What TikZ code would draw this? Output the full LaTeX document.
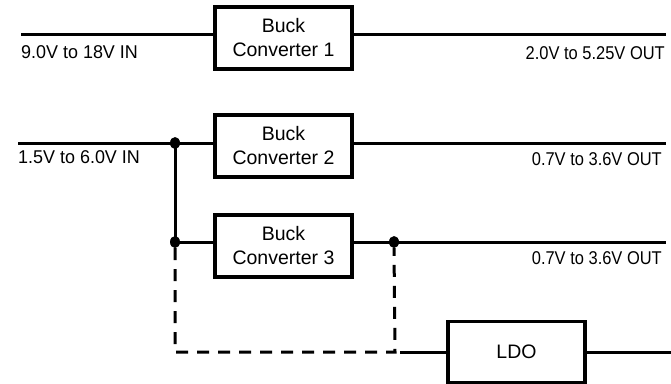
\documentclass[tikz,border=0pt]{standalone}
\usepackage{fontspec}
\usepackage{graphicx}
\setmainfont{Liberation Sans}
\usetikzlibrary{shapes.geometric}
\newcommand{\inlbl}[1]{\scalebox{0.97}[1]{#1}}
\newcommand{\outlbl}[1]{\scalebox{0.89}[1]{#1}}
\begin{document}
\begin{tikzpicture}[x=1pt,y=-1pt,
  box/.style={draw,line width=3.2pt,minimum width=137pt,minimum height=62pt,inner sep=0pt,align=center,font=\fontsize{19.5}{24}\selectfont},
  wire/.style={line width=3pt},
  dashwire/.style={line width=3pt,dash pattern=on 12pt off 9pt},
  lbl/.style={font=\fontsize{18.5}{22}\selectfont,inner sep=0pt},
  jdot/.style={ellipse,fill,inner sep=0pt,minimum width=10pt,minimum height=12pt}]
\useasboundingbox (0,0) rectangle (671,383);
% row 1
\coordinate (in1) at (21,34);
\coordinate (out1) at (666,34);
\node[box] (b1) at (283.5,38) {Buck\\Converter 1};
\draw[wire] (in1) -- (b1.west |- in1);
\draw[wire] (b1.east |- in1) -- (out1);
\node[lbl,anchor=west] (l1) at (21,52) {\inlbl{9.0V to 18V IN}};
\node[lbl,anchor=east] (r1) at (665,53) {\outlbl{2.0V to 5.25V OUT}};
% row 2
\coordinate (in2) at (18,143);
\coordinate (out2) at (666,143);
\node[box] (b2) at (283.5,146) {Buck\\Converter 2};
\node[jdot] (j1) at (175,143) {};
\draw[wire] (in2) -- (b2.west |- in2);
\draw[wire] (b2.east |- in2) -- (out2);
\node[lbl,anchor=west] (l2) at (18,157) {\inlbl{1.5V to 6.0V IN}};
\node[lbl,anchor=east] (r2) at (662,159) {\outlbl{0.7V to 3.6V OUT}};
% row 3
\coordinate (out3) at (666,242);
\node[box] (b3) at (283.5,246) {Buck\\Converter 3};
\node[jdot] (j2) at (175,242) {};
\node[jdot] (j3) at (394,242) {};
\draw[wire] (j1.center) -- (j2.center);
\draw[wire] (j2.center) -- (b3.west |- j2);
\draw[wire] (b3.east |- j3) -- (out3);
\node[lbl,anchor=east] (r3) at (662,258) {\outlbl{0.7V to 3.6V OUT}};
% row 4
\coordinate (c1) at (175,352);
\coordinate (c2) at (395,352);
\coordinate (s4) at (400,352);
\coordinate (out4) at (671,352);
\node[box,minimum height=61pt] (ldo) at (516.5,352) {LDO};
\draw[dashwire] (j2.south) -- (c1) -- (c2) -- (j3.south);
\draw[wire] (s4) -- (ldo.west);
\draw[wire] (ldo.east) -- (out4);
\end{tikzpicture}
\end{document}
